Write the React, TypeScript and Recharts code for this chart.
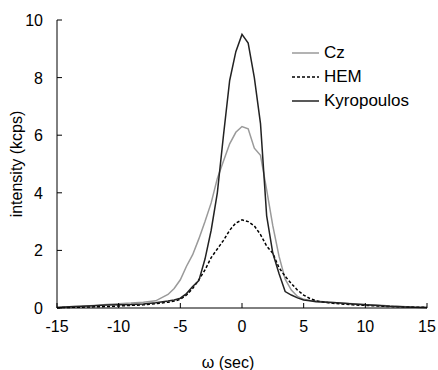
import { LineChart, Line, XAxis, YAxis, Label } from 'recharts'

const omega = [-15, -14, -13, -12, -11, -10, -9, -8, -7, -6, -5.5, -5, -4.5, -4, -3.5, -3, -2.5, -2, -1.5, -1, -0.5, 0, 0.5, 1, 1.5, 2, 2.5, 3, 3.5, 4, 4.5, 5, 5.5, 6, 7, 8, 9, 10, 11, 12, 13, 14, 15]

const cz = [0.02, 0.04, 0.06, 0.09, 0.12, 0.15, 0.17, 0.2, 0.25, 0.47, 0.68, 0.98, 1.45, 1.85, 2.4, 3.0, 3.65, 4.5, 5.1, 5.7, 6.1, 6.3, 6.22, 5.55, 5.3, 4.1, 2.85, 1.8, 1.0, 0.62, 0.4, 0.3, 0.26, 0.24, 0.2, 0.17, 0.15, 0.12, 0.1, 0.07, 0.05, 0.03, 0.02]

const hem = [0.01, 0.02, 0.03, 0.04, 0.05, 0.07, 0.09, 0.11, 0.15, 0.2, 0.24, 0.3, 0.45, 0.68, 0.98, 1.32, 1.75, 2.05, 2.35, 2.7, 2.95, 3.06, 3.0, 2.85, 2.55, 2.15, 1.9, 1.4, 1.1, 0.85, 0.62, 0.45, 0.33, 0.25, 0.18, 0.14, 0.11, 0.09, 0.07, 0.05, 0.04, 0.03, 0.02]

const kyro = [0.02, 0.04, 0.06, 0.08, 0.1, 0.11, 0.12, 0.14, 0.18, 0.24, 0.28, 0.34, 0.5, 0.75, 0.95, 1.7, 2.7, 4.0, 6.0, 7.9, 8.9, 9.5, 9.2, 8.0, 6.4, 3.2, 1.9, 1.2, 0.57, 0.45, 0.35, 0.28, 0.25, 0.22, 0.2, 0.17, 0.14, 0.11, 0.09, 0.06, 0.04, 0.03, 0.02]

const xTicks = [-15, -10, -5, 0, 5, 10, 15]
const yTicks = [0, 2, 4, 6, 8, 10]

const series = [
  { key: 'cz', name: 'Cz', color: '#9a9a9a', dash: undefined },
  { key: 'hem', name: 'HEM', color: '#000', dash: '3 2' },
  { key: 'kyro', name: 'Kyropoulos', color: '#222', dash: undefined },
]

const data = omega.map((w, i) => ({ w, cz: cz[i], hem: hem[i], kyro: kyro[i] }))

const font = '"Liberation Sans", Arial, sans-serif'

const XTick = (props: any) => {
  const { x, y, payload } = props
  return (
    <g>
      <line x1={x} x2={x} y1={y} y2={y - 5} stroke="#000" />
      <text x={x} y={y + 24} textAnchor="middle" fontSize={16} fontFamily={font} fill="#000">
        {payload.value}
      </text>
    </g>
  )
}

const YTick = (props: any) => {
  const { x, y, payload } = props
  return (
    <g>
      <line x1={x} x2={x + 5} y1={y} y2={y} stroke="#000" />
      <text x={x - 14} y={y + 6} textAnchor="end" fontSize={16} fontFamily={font} fill="#000">
        {payload.value}
      </text>
    </g>
  )
}

const LegendBox = () => (
  <div style={{ position: 'absolute', left: 292, top: 41, fontFamily: font, fontSize: 17, lineHeight: '24px', color: '#000' }}>
    {series.map((s) => (
      <div key={s.key} style={{ display: 'flex', alignItems: 'center' }}>
        <svg width={32} height={24}>
          <line x1={0} x2={27} y1={12} y2={12} stroke={s.color} strokeWidth={1.5} strokeDasharray={s.dash} />
        </svg>
        <span>{s.name}</span>
      </div>
    ))}
  </div>
)

export default function App() {
  return (
    <div style={{ position: 'absolute', left: 0, top: 0, width: 438, height: 370, background: '#fff' }}>
      <LineChart width={438} height={370} data={data} margin={{ top: 20, right: 11, left: 0, bottom: 0 }}>
        <XAxis
          dataKey="w"
          type="number"
          domain={[-15, 15]}
          ticks={xTicks}
          tickLine={false}
          tickSize={0}
          tickMargin={0}
          axisLine={{ stroke: '#000' }}
          tick={<XTick />}
          height={62}
          interval={0}
        >
          <Label
            value="ω (sec)"
            position="insideBottom"
            offset={2}
            dx={-14}
            style={{ fontFamily: font, fontSize: 16, fill: '#000' }}
          />
        </XAxis>
        <XAxis xAxisId="top" orientation="top" type="number" dataKey="w" domain={[-15, 15]} tick={false} tickLine={false} axisLine={{ stroke: '#808080' }} height={0} />
        <YAxis
          type="number"
          domain={[0, 10]}
          ticks={yTicks}
          tickLine={false}
          tickSize={0}
          tickMargin={0}
          axisLine={{ stroke: '#000' }}
          tick={<YTick />}
          width={57}
          interval={0}
        >
          <Label
            value="intensity (kcps)"
            angle={-90}
            position="insideLeft"
            offset={16}
            style={{ fontFamily: font, fontSize: 16, fill: '#000', textAnchor: 'middle' }}
          />
        </YAxis>
        <YAxis yAxisId="right" orientation="right" domain={[0, 10]} tick={false} tickLine={false} axisLine={{ stroke: '#000' }} width={0} />
        {series.map((s) => (
          <Line
            key={s.key}
            type="linear"
            dataKey={s.key}
            name={s.name}
            stroke={s.color}
            strokeWidth={1.5}
            strokeDasharray={s.dash}
            dot={false}
            isAnimationActive={false}
          />
        ))}
      </LineChart>
      <LegendBox />
    </div>
  )
}
